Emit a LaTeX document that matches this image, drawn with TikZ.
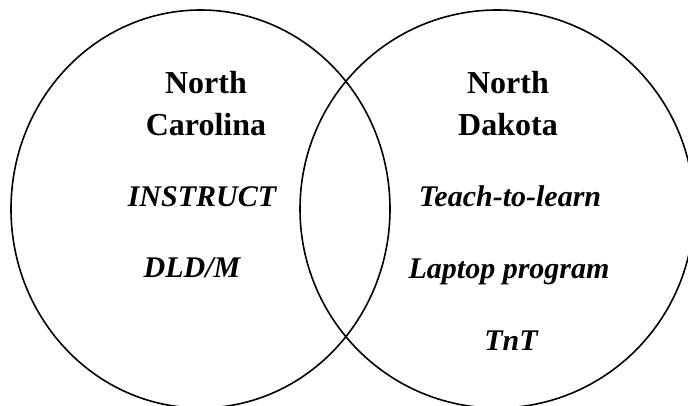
\documentclass[tikz,border=0pt]{standalone}
\usepackage{fontspec}
\setmainfont{Liberation Serif}
\usepackage{tikz}
\usetikzlibrary{shapes.geometric}

\tikzset{
  venn/.style={ellipse, draw=black, line width=1.6pt, inner sep=0pt},
  heading/.style={align=center, font=\fontsize{32}{42}\selectfont\bfseries},
  entry/.style={anchor=base, font=\fontsize{30}{36}\selectfont\bfseries\itshape}
}

\begin{document}
\begin{tikzpicture}[x=1pt, y=-1pt]
  \useasboundingbox (0,0) rectangle (688,406);

  \node (nc) [venn, minimum width=379pt, minimum height=398pt] at (200.5,209) {};
  \node (nd) [venn, minimum width=394pt, minimum height=398pt] at (497,209) {};

  \node (ncname) [heading] at (206,104) {North\\Carolina};
  \node (ndname) [heading] at (508,104) {North\\Dakota};

  \node (instruct) [entry] at (202,207) {INSTRUCT};
  \node (dldm) [entry] at (192,277) {DLD/M};

  \node (teach) [entry] at (510,207) {Teach-to-learn};
  \node (laptop) [entry] at (509,278) {Laptop program};
  \node (tnt) [entry] at (511,350) {TnT};
\end{tikzpicture}
\end{document}
